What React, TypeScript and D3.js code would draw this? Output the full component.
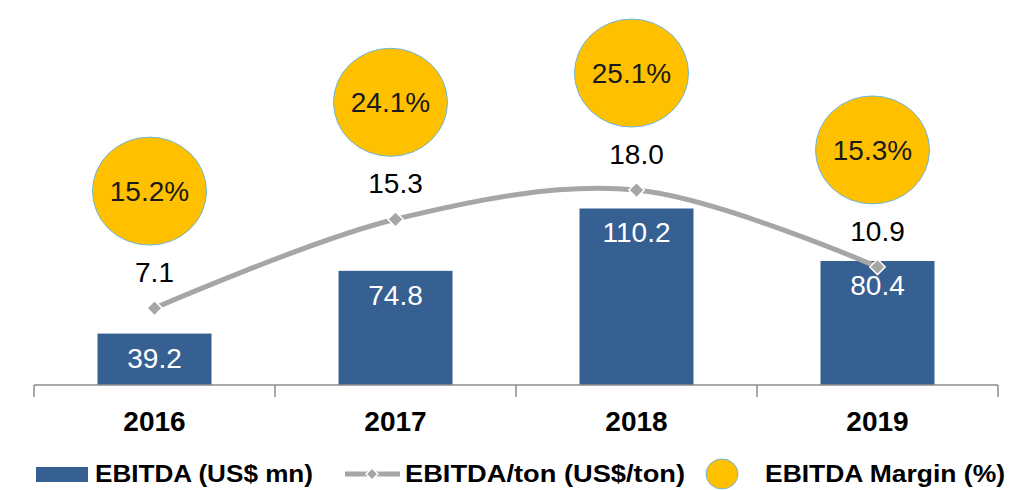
import React, { useEffect, useRef } from "react";
import * as d3 from "d3";

const YEARS = ["2016", "2017", "2018", "2019"];
const EBITDA = [39.2, 74.8, 110.2, 80.4];
const EBITDA_PER_TON = [7.1, 15.3, 18.0, 10.9];
const MARGIN = [15.2, 24.1, 25.1, 15.3];
const LEGEND = ["EBITDA (US$ mn)", "EBITDA/ton (US$/ton)", "EBITDA Margin (%)"];

const WIDTH = 1016;
const HEIGHT = 490;
const BASE = 385;
const FONT = "'Liberation Sans', Arial, Helvetica, sans-serif";
const BAR_COLOR = "#376092";
const LINE_COLOR = "#A6A6A6";
const CIRCLE_COLOR = "#FFC000";
const CIRCLE_STROKE = "#6CB8E0";

export default function App() {
	const ref = useRef<SVGSVGElement>(null);

	useEffect(() => {
		document.body.style.margin = "0";
		const svg = d3.select(ref.current);
		svg.selectAll("*").remove();

		const x = d3.scaleBand().domain(YEARS).range([34, 998]).paddingInner(0.527).paddingOuter(0.2635);
		const y = d3.scaleLinear().domain([10, 140]).range([BASE, 156]);
		const y2 = d3.scaleLinear().domain([0, 20]).range([BASE, 168.4]);
		const cx = (d: string) => (x(d) as number) + x.bandwidth() / 2;

		// bars
		const bars = svg.append("g");
		bars
			.selectAll("rect")
			.data(EBITDA)
			.enter()
			.append("rect")
			.attr("x", (d, i) => x(YEARS[i]) as number)
			.attr("y", (d) => y(d))
			.attr("width", x.bandwidth())
			.attr("height", (d) => BASE - y(d))
			.attr("fill", BAR_COLOR);

		bars
			.selectAll("text")
			.data(EBITDA)
			.enter()
			.append("text")
			.attr("x", (d, i) => cx(YEARS[i]))
			.attr("y", (d) => y(d) + 34)
			.attr("text-anchor", "middle")
			.attr("font-family", FONT)
			.attr("font-size", 28)
			.attr("fill", "#ffffff")
			.text((d) => d.toFixed(1));

		// axis
		const axis = svg.append("g").attr("stroke", "#8C8C8C").attr("stroke-width", 1.5);
		axis.append("line").attr("x1", 34).attr("x2", 998).attr("y1", BASE).attr("y2", BASE);
		const bounds = YEARS.map((d) => x(d) as number - (x.step() - x.bandwidth()) / 2).concat([998]);
		axis
			.selectAll(".tick")
			.data(bounds)
			.enter()
			.append("line")
			.attr("x1", (d) => d)
			.attr("x2", (d) => d)
			.attr("y1", BASE)
			.attr("y2", BASE + 12);

		svg
			.append("g")
			.selectAll("text")
			.data(YEARS)
			.enter()
			.append("text")
			.attr("x", (d) => cx(d))
			.attr("y", 431)
			.attr("text-anchor", "middle")
			.attr("font-family", FONT)
			.attr("font-weight", "bold")
			.attr("font-size", 28)
			.attr("fill", "#000000")
			.text((d) => d);

		// line
		const pts: [number, number][] = EBITDA_PER_TON.map((d, i) => [cx(YEARS[i]), y2(d)]);
		const line = d3.line().curve(d3.curveCatmullRom.alpha(0.5));
		svg
			.append("path")
			.attr("d", line(pts))
			.attr("fill", "none")
			.attr("stroke", LINE_COLOR)
			.attr("stroke-width", 5);

		const diamond = d3.symbol().type(d3.symbolDiamond2).size(150);
		svg
			.append("g")
			.selectAll("path")
			.data(pts)
			.enter()
			.append("path")
			.attr("d", diamond())
			.attr("transform", (d) => `translate(${d[0]},${d[1]})`)
			.attr("fill", LINE_COLOR)
			.attr("stroke", "#ffffff")
			.attr("stroke-width", 1.5);

		svg
			.append("g")
			.selectAll("text")
			.data(EBITDA_PER_TON)
			.enter()
			.append("text")
			.attr("x", (d, i) => cx(YEARS[i]))
			.attr("y", (d) => y2(d) - 26)
			.attr("text-anchor", "middle")
			.attr("font-family", FONT)
			.attr("font-size", 28)
			.attr("fill", "#000000")
			.text((d) => d.toFixed(1));

		// margin bubbles, sitting above the line labels
		const bubbles = svg.append("g");
		bubbles
			.selectAll("ellipse")
			.data(MARGIN)
			.enter()
			.append("ellipse")
			.attr("cx", (d, i) => cx(YEARS[i]) - 5)
			.attr("cy", (d, i) => y2(EBITDA_PER_TON[i]) - 117)
			.attr("rx", 57)
			.attr("ry", 54)
			.attr("fill", CIRCLE_COLOR)
			.attr("stroke", CIRCLE_STROKE)
			.attr("stroke-width", 1);

		bubbles
			.selectAll("text")
			.data(MARGIN)
			.enter()
			.append("text")
			.attr("x", (d, i) => cx(YEARS[i]) - 5)
			.attr("y", (d, i) => y2(EBITDA_PER_TON[i]) - 117 + 10)
			.attr("text-anchor", "middle")
			.attr("font-family", FONT)
			.attr("font-size", 28)
			.attr("fill", "#1a1a1a")
			.text((d) => d.toFixed(1) + "%");

		// legend
		const lg = svg.append("g");
		lg.append("rect").attr("x", 36).attr("y", 467).attr("width", 52).attr("height", 15).attr("fill", BAR_COLOR);
		lg.append("line")
			.attr("x1", 345)
			.attr("x2", 400)
			.attr("y1", 474)
			.attr("y2", 474)
			.attr("stroke", LINE_COLOR)
			.attr("stroke-width", 5);
		lg.append("path")
			.attr("d", d3.symbol().type(d3.symbolDiamond2).size(90)())
			.attr("transform", "translate(372,474)")
			.attr("fill", LINE_COLOR)
			.attr("stroke", "#ffffff")
			.attr("stroke-width", 1.5);
		lg.append("ellipse")
			.attr("cx", 722)
			.attr("cy", 474)
			.attr("rx", 16)
			.attr("ry", 15)
			.attr("fill", CIRCLE_COLOR)
			.attr("stroke", CIRCLE_STROKE)
			.attr("stroke-width", 1);

		const legendX = [95, 405, 765];
		const legendW = [218, 280, 240];
		lg.selectAll("text")
			.data(LEGEND)
			.enter()
			.append("text")
			.attr("x", (d, i) => legendX[i])
			.attr("y", 482)
			.attr("font-family", FONT)
			.attr("font-weight", "bold")
			.attr("font-size", 23)
			.attr("textLength", (d, i) => legendW[i])
			.attr("lengthAdjust", "spacingAndGlyphs")
			.attr("fill", "#000000")
			.text((d) => d);
	}, []);

	return <svg ref={ref} width={WIDTH} height={HEIGHT} style={{ display: "block" }}></svg>;
}
